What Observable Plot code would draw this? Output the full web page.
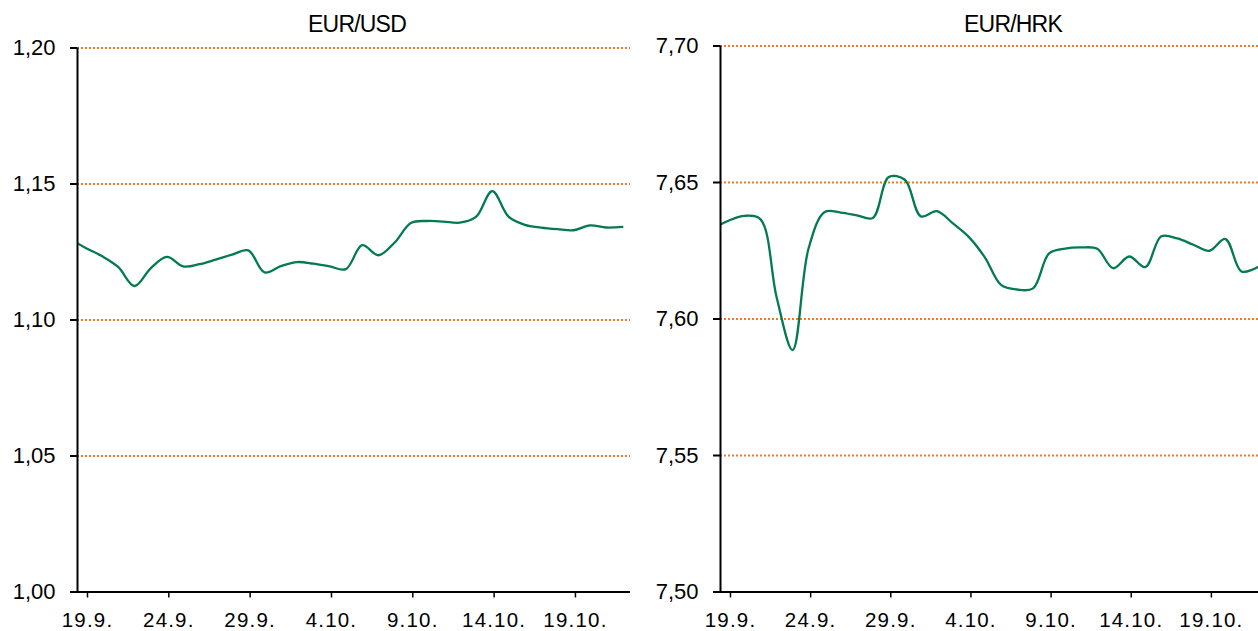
<!DOCTYPE html>
<html><head><meta charset="utf-8">
<script src="https://cdn.jsdelivr.net/npm/d3@7"></script>
<script src="https://cdn.jsdelivr.net/npm/@observablehq/plot@0.6"></script>
<style>
html,body{margin:0;padding:0;background:#fff;overflow:hidden;width:1258px;height:631px}
#wrap{position:relative;width:1258px;height:631px;overflow:hidden}
.panel{position:absolute;top:0}
.title{height:40px;font-family:"Liberation Sans",Arial,sans-serif;font-size:23px;letter-spacing:-0.8px;position:relative;color:#000}
.title span{position:absolute;transform:translateX(-50%);top:11px;white-space:nowrap;line-height:normal}
svg{overflow:visible;display:block}
svg g[aria-label="x-axis tick label"] text{letter-spacing:1.2px;font-size:20.5px}
</style></head><body><div id="wrap"></div>
<script>
// Dates (daily); each value is plotted at the middle of its day
const dates = ["2015-09-18","2015-09-19","2015-09-20","2015-09-21","2015-09-22","2015-09-23","2015-09-24",
  "2015-09-25","2015-09-26","2015-09-27","2015-09-28","2015-09-29","2015-09-30","2015-10-01","2015-10-02",
  "2015-10-03","2015-10-04","2015-10-05","2015-10-06","2015-10-07","2015-10-08","2015-10-09","2015-10-10",
  "2015-10-11","2015-10-12","2015-10-13","2015-10-14","2015-10-15","2015-10-16","2015-10-17","2015-10-18",
  "2015-10-19","2015-10-20","2015-10-21","2015-10-22"];
const eurUsd = [1.1300,1.1265,1.1235,1.1195,1.1125,1.1190,1.1232,1.1197,1.1205,1.1222,1.1240,1.1256,1.1175,
  1.1198,1.1213,1.1207,1.1197,1.1187,1.1275,1.1238,1.1285,1.1357,1.1364,1.1362,1.1358,1.1379,1.1474,1.1380,
  1.1350,1.1340,1.1334,1.1330,1.1348,1.1340,1.1342];
const eurHrk = [7.6330,7.6360,7.6378,7.6365,7.6080,7.5886,7.6260,7.6392,7.6390,7.6380,7.6370,7.6520,7.6510,
  7.6376,7.6395,7.6350,7.6300,7.6225,7.6125,7.6108,7.6112,7.6240,7.6258,7.6262,7.6257,7.6186,7.6229,7.6190,
  7.6303,7.6295,7.6272,7.6250,7.6293,7.6174,7.6190];
const xTicks = ["2015-09-19","2015-09-24","2015-09-29","2015-10-04","2015-10-09","2015-10-14","2015-10-19"];
const xDomain = ["2015-09-19","2015-10-23"];
const usdTicks = [1.00,1.05,1.10,1.15,1.20];
const hrkTicks = [7.50,7.55,7.60,7.65,7.70];
const titles = ["EUR/USD","EUR/HRK"];

const GREEN = "#037a4f", ORANGE = "#f07a2a";
const fmtY = d => d.toFixed(2).replace(".", ",");
const fmtX = d => `${d.getUTCDate()}.${d.getUTCMonth()+1}.`;
const HALF_DAY = 12*3600e3;

function panel({left, width, marginLeft, marginTop, title, titleX, values, yTicks}) {
  const wrap = document.createElement("div");
  wrap.className = "panel";
  wrap.style.left = left + "px";
  wrap.style.width = width + "px";
  const t = document.createElement("div");
  t.className = "title";
  const s = document.createElement("span");
  s.textContent = title;
  s.style.left = titleX + "px";
  t.appendChild(s);
  wrap.appendChild(t);
  const rows = dates.map((d, i) => ({date: new Date(d), v: values[i]}));
  const xd = xDomain.map(d => new Date(d));
  const plot = Plot.plot({
    width, height: 591,
    marginLeft, marginRight: 10, marginTop, marginBottom: 39.5,
    style: {fontFamily: "'Liberation Sans', Arial, sans-serif", color: "#000", background: "transparent"},
    x: {type: "utc", domain: xd},
    y: {domain: [yTicks[0], yTicks[yTicks.length-1]]},
    marks: [
      Plot.ruleY(yTicks.slice(1), {stroke: ORANGE, strokeWidth: 2, strokeDasharray: "2,2"}),
      Plot.axisY({ticks: yTicks, tickFormat: fmtY, tickSize: 7, tickPadding: 15, fontSize: 22, strokeWidth: 2, label: null}),
      Plot.axisX({ticks: xTicks.map(d => new Date(d)), tickFormat: fmtX, tickSize: 6, tickPadding: 14, fontSize: 20.5, dx: 10, strokeWidth: 1.5, label: null}),
      Plot.line(rows, {x: d => new Date(+d.date + HALF_DAY), y: "v", curve: "catmull-rom", stroke: GREEN, strokeWidth: 2.3, clip: true}),
      Plot.ruleX([xd[0]], {stroke: "#000", strokeWidth: 2}),
      Plot.ruleY([yTicks[0]], {stroke: "#000", strokeWidth: 2})
    ]
  });
  wrap.appendChild(plot);
  document.getElementById("wrap").appendChild(wrap);
}

panel({left: 0, width: 640, marginLeft: 77, marginTop: 7.5, title: titles[0], titleX: 357, values: eurUsd, yTicks: usdTicks});
panel({left: 640, width: 635, marginLeft: 80, marginTop: 5.5, title: titles[1], titleX: 373, values: eurHrk, yTicks: hrkTicks});
</script></body></html>
